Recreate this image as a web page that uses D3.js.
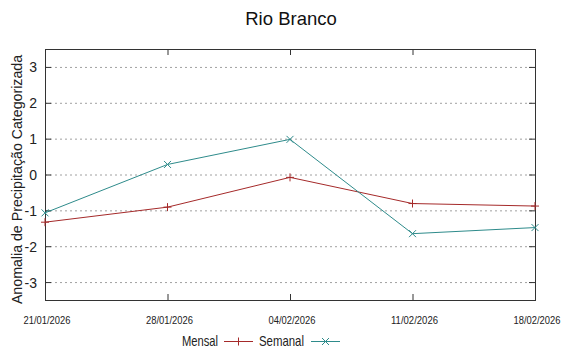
<!DOCTYPE html>
<html><head><meta charset="utf-8">
<script src="https://cdn.jsdelivr.net/npm/d3@7"></script>
<style>body{margin:0;background:#fff}svg{display:block;font-family:"Liberation Sans",Arial,sans-serif}</style>
</head><body><svg id="c" width="584" height="351"></svg>
<script>
const dates = ["21/01/2026","28/01/2026","04/02/2026","11/02/2026","18/02/2026"];
const mensal = [-1.33,-0.91,-0.08,-0.81,-0.88];
const semanal = [-1.07,0.28,0.98,-1.65,-1.48];
const yTicks = [-3,-2,-1,0,1,2,3];
const title = "Rio Branco";
const yLabel = "Anomalia de Precipitação Categorizada";

const svg = d3.select("#c");
const L=45,R=535,T=49,B=300;
const x = d3.scalePoint().domain(dates).range([L,R]);
const y = d3.scaleLinear().domain([-3.5,3.5]).range([B,T]);

// grid
svg.append("g").selectAll("line").data(yTicks).join("line")
 .attr("x1",L).attr("x2",R).attr("y1",d=>y(d)+0.5).attr("y2",d=>y(d)+0.5)
 .attr("stroke","#a0a0a0").attr("stroke-width",1).attr("stroke-dasharray","2,3");

// frame
svg.append("rect").attr("x",L+0.5).attr("y",T+0.5).attr("width",R-L).attr("height",B-T)
 .attr("fill","none").attr("stroke","#333").attr("stroke-width",1);

// y ticks
const ya = svg.append("g");
ya.selectAll("line.l").data(yTicks).join("line").attr("x1",L).attr("x2",L+6)
 .attr("y1",d=>y(d)+0.5).attr("y2",d=>y(d)+0.5).attr("stroke","#333");
ya.selectAll("line.r").data(yTicks).join("line").attr("x1",R-6).attr("x2",R)
 .attr("y1",d=>y(d)+0.5).attr("y2",d=>y(d)+0.5).attr("stroke","#333");
ya.selectAll("text").data(yTicks).join("text").attr("x",L-8).attr("y",d=>y(d)+5.5)
 .attr("text-anchor","end").attr("font-size",14).attr("fill","#222").text(d=>d);

// x ticks
const xa = svg.append("g");
xa.selectAll("line.b").data(dates).join("line").attr("x1",d=>x(d)+0.5).attr("x2",d=>x(d)+0.5)
 .attr("y1",B).attr("y2",B-6).attr("stroke","#333");
xa.selectAll("line.t").data(dates).join("line").attr("x1",d=>x(d)+0.5).attr("x2",d=>x(d)+0.5)
 .attr("y1",T).attr("y2",T+6).attr("stroke","#333");
xa.selectAll("text").data(dates).join("text").attr("x",d=>x(d)+2-23.5).attr("y",B+24)
 .attr("textLength",47).attr("lengthAdjust","spacingAndGlyphs")
 .attr("font-size",11.5).attr("fill","#222").text(d=>d);

// title
svg.append("text").attr("x",291).attr("y",25).attr("text-anchor","middle")
 .attr("font-size",18.5).attr("fill","#111").text(title);
// y label
svg.append("text").attr("transform",`translate(22,${(T+B)/2+5}) rotate(-90)`)
 .attr("text-anchor","middle").attr("font-size",14.2).attr("fill","#222").text(yLabel);

const red="#a52a2a", teal="#2e8b8b";
const line = d3.line().x((d,i)=>x(dates[i])).y(d=>y(d));
svg.append("path").datum(mensal).attr("d",line).attr("fill","none").attr("stroke",red).attr("stroke-width",1);
svg.append("path").datum(semanal).attr("d",line).attr("fill","none").attr("stroke",teal).attr("stroke-width",1);

function plus(g,cx,cy,c){g.append("path").attr("d",`M${cx-4},${cy}H${cx+4}M${cx},${cy-4}V${cy+4}`).attr("stroke",c).attr("fill","none");}
function cross(g,cx,cy,c){g.append("path").attr("d",`M${cx-3.5},${cy-3.5}L${cx+3.5},${cy+3.5}M${cx-3.5},${cy+3.5}L${cx+3.5},${cy-3.5}`).attr("stroke",c).attr("fill","none");}
const mk = svg.append("g");
mensal.forEach((v,i)=>plus(mk,x(dates[i]),y(v),red));
semanal.forEach((v,i)=>cross(mk,x(dates[i]),y(v),teal));

// legend
const lg = svg.append("g");
lg.append("text").attr("x",182).attr("y",346).attr("textLength",36).attr("lengthAdjust","spacingAndGlyphs")
 .attr("font-size",14.5).attr("fill","#222").text("Mensal");
lg.append("line").attr("x1",224).attr("x2",253).attr("y1",341.5).attr("y2",341.5).attr("stroke",red);
plus(lg,238.5,341.5,red);
lg.append("text").attr("x",259).attr("y",346).attr("textLength",45).attr("lengthAdjust","spacingAndGlyphs")
 .attr("font-size",14.5).attr("fill","#222").text("Semanal");
lg.append("line").attr("x1",311).attr("x2",340).attr("y1",341.5).attr("y2",341.5).attr("stroke",teal);
cross(lg,325.5,341.5,teal);
</script></body></html>
